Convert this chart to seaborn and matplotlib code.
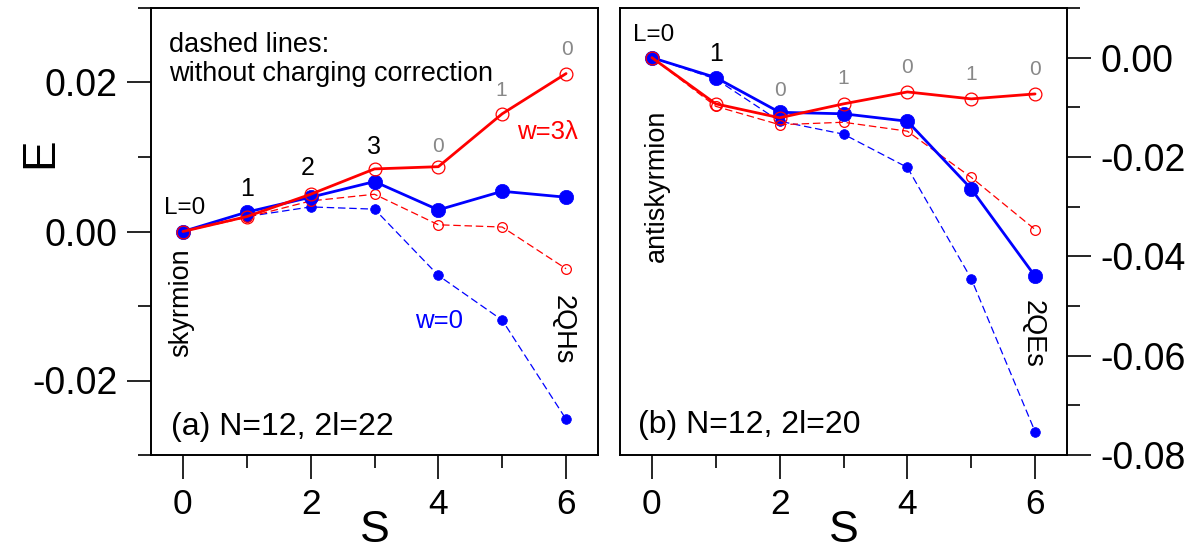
import matplotlib
matplotlib.use("Agg")
import matplotlib.pyplot as plt
import seaborn as sns

# ---------------- data ----------------
S = [0, 1, 2, 3, 4, 5, 6]

# panel (a): N=12, 2l=22
a_w3 = [0.0, 0.0020, 0.0050, 0.0084, 0.0087, 0.0158, 0.0212]          # w=3λ, with correction
a_w0 = [0.0, 0.0026, 0.0046, 0.0067, 0.0029, 0.0054, 0.0046]          # w=0, with correction
a_w3_nc = [0.0, 0.0019, 0.0041, 0.0050, 0.0009, 0.0006, -0.0050]      # w=3λ, no correction
a_w0_nc = [0.0, 0.0020, 0.0033, 0.0030, -0.0059, -0.0119, -0.0252]    # w=0, no correction

# panel (b): N=12, 2l=20
b_w3 = [0.0, -0.0093, -0.0121, -0.0093, -0.0069, -0.0083, -0.0073]
b_w0 = [0.0, -0.0040, -0.0110, -0.0113, -0.0128, -0.0264, -0.0440]
b_w3_nc = [0.0, -0.0098, -0.0135, -0.0130, -0.0148, -0.0241, -0.0346]
b_w0_nc = [0.0, -0.0043, -0.0128, -0.0154, -0.0221, -0.0445, -0.0753]

# L labels
a_L = ["L=0", "1", "2", "3", "0", "1", "0"]
b_L = ["L=0", "1", "0", "1", "0", "1", "0"]
a_L_gray = [False, False, False, False, True, True, True]
b_L_gray = [False, False, True, True, True, True, True]

xticks = [0, 2, 4, 6]
xtick_labels = ["0", "2", "4", "6"]
a_yticks = [-0.02, 0.0, 0.02]
a_ytick_labels = ["-0.02", "0.00", "0.02"]
b_yticks = [-0.08, -0.06, -0.04, -0.02, 0.0]
b_ytick_labels = ["-0.08", "-0.06", "-0.04", "-0.02", "0.00"]

# ---------------- style ----------------
sns.set_style("white")
plt.rcParams['font.family'] = ['Liberation Sans', 'DejaVu Sans']
plt.rcParams['text.color'] = 'black'
plt.rcParams['axes.labelcolor'] = 'black'
plt.rcParams['xtick.color'] = 'black'
plt.rcParams['ytick.color'] = 'black'
plt.rcParams['axes.edgecolor'] = 'black'

RED = "#ff0000"
BLUE = "#0000ff"
GRAY = "#888888"

fig = plt.figure(figsize=(11.98, 5.52), dpi=100)
axA = fig.add_axes([151/1198, 97/552, 447/1198, 447/552])
axB = fig.add_axes([620/1198, 97/552, 447/1198, 447/552])


def series(ax, y, color, filled, big, dashed, z):
    if big:
        ms = 10.3 if filled else 9.2
        lw = 2.0
    else:
        ms = 7.0
        lw = 0.9
    sns.lineplot(x=S, y=y, ax=ax, color=color, marker='o', markersize=ms,
                 markerfacecolor=color if filled else 'none',
                 markeredgecolor=color, markeredgewidth=0.9 if not filled else 0.5,
                 linewidth=lw, linestyle=(0, (6, 3)) if dashed else '-',
                 errorbar=None, legend=False, zorder=z)


for ax, w3, w0, w3nc, w0nc in [(axA, a_w3, a_w0, a_w3_nc, a_w0_nc),
                               (axB, b_w3, b_w0, b_w3_nc, b_w0_nc)]:
    series(ax, w0nc, BLUE, True, False, True, 2)
    series(ax, w3nc, RED, False, False, True, 3)
    series(ax, w0, BLUE, True, True, False, 4)
    series(ax, w3, RED, False, True, False, 5)
    ax.set_xlim(-0.5, 6.5)
    ax.set_xticks(xticks)
    ax.set_xticklabels(xtick_labels)
    ax.set_xticks([1, 3, 5], minor=True)
    for sp in ax.spines.values():
        sp.set_visible(True)
        sp.set_color('black')
        sp.set_linewidth(1.4)
    ax.tick_params(which='major', direction='out', length=17, width=1.2,
                   color='black', labelcolor='black', pad=7)
    ax.tick_params(which='minor', direction='out', length=9.5, width=1.2,
                   color='black')
    ax.tick_params(axis='x', labelsize=25.5)
    ax.tick_params(axis='y', labelsize=27)
    ax.set_xlabel("S", fontsize=32, color='black')
    ax.xaxis.label.set_va('center')
    ax.xaxis.set_label_coords(0.5, -0.170)
    ax.grid(False)

# panel (a) axes
axA.set_ylim(-0.03, 0.03)
axA.set_yticks(a_yticks)
axA.set_yticklabels(a_ytick_labels)
axA.set_yticks([-0.03, -0.01, 0.01, 0.03], minor=True)
axA.tick_params(axis='both', which='both', left=True, bottom=True, right=False, top=False)
axA.set_ylabel("E", fontsize=33, color='black')
axA.yaxis.label.set_va('center')
axA.yaxis.set_label_coords(-0.247, 0.677)

# panel (b) axes
axB.set_ylim(-0.08, 0.01)
axB.set_yticks(b_yticks)
axB.set_yticklabels(b_ytick_labels)
axB.set_yticks([-0.07, -0.05, -0.03, -0.01, 0.01], minor=True)
axB.yaxis.tick_right()
axB.tick_params(axis='both', which='both', left=False, bottom=True, right=True, top=False)
axB.set_ylabel("")

# ---------------- annotations ----------------
a_Lpos = [(0.03, 0.0024), (1.0, 0.0047), (1.95, 0.0076), (3.0, 0.01036),
          (3.99, 0.0107), (4.98, 0.01815), (6.02, 0.02365)]
for lab, (x, y), g in zip(a_L, a_Lpos, a_L_gray):
    axA.text(x, y, lab, ha='center', va='baseline', color=GRAY if g else 'black',
             fontsize=15 if g else (17.5 if lab == "L=0" else 18), zorder=10)

b_Lpos = [(0.03, 0.00328), (1.01, -0.00075), (2.0, -0.0078), (3.0, -0.0054),
          (4.0, -0.0031), (5.0, -0.0044), (6.0, -0.0034)]
for lab, (x, y), g in zip(b_L, b_Lpos, b_L_gray):
    axB.text(x, y, lab, ha='center', va='baseline', color=GRAY if g else 'black',
             fontsize=15 if g else (17.5 if lab == "L=0" else 18), zorder=10)

axA.text(-0.215, 0.02405, "dashed lines:", ha='left', va='baseline', fontsize=19.5, color='black')
axA.text(-0.215, 0.02014, "without charging correction", ha='left', va='baseline', fontsize=19.5, color='black')
axA.text(5.23, 0.0124, "w=3λ", color=RED, ha='left', va='baseline', fontsize=18.5)
axA.text(3.64, -0.0130, "w=0", color=BLUE, ha='left', va='baseline', fontsize=18.5)
axA.text(-0.02, -0.0096, "skyrmion", rotation=90, ha='center', va='center', fontsize=19.5, color='black')
axA.text(5.94, -0.0132, "2QHs", rotation=270, ha='center', va='center', fontsize=19.5, color='black')
axA.text(-0.18, -0.02725, "(a) N=12, 2l=22", ha='left', va='baseline', fontsize=23, color='black')

axB.text(0.07, -0.0258, "antiskyrmion", rotation=90, ha='center', va='center', fontsize=19.5, color='black')
axB.text(5.96, -0.0556, "2QEs", rotation=270, ha='center', va='center', fontsize=19.5, color='black')
axB.text(-0.22, -0.07547, "(b) N=12, 2l=20", ha='left', va='baseline', fontsize=23, color='black')

fig.savefig("out.png", dpi=100)
